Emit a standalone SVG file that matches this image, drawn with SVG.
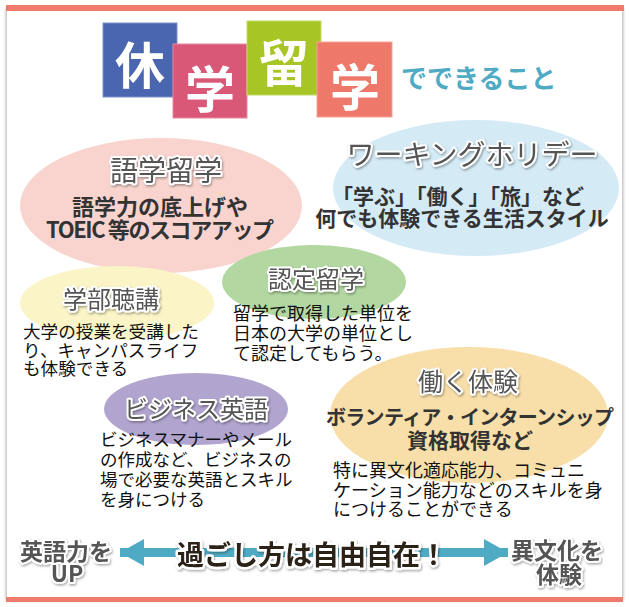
<svg xmlns="http://www.w3.org/2000/svg" width="629" height="607" viewBox="0 0 629 607">
<defs>
<filter id="cardShadow" x="-5%" y="-5%" width="110%" height="110%">
<feDropShadow dx="0" dy="0" stdDeviation="1.6" flood-color="#000" flood-opacity="0.35"/>
</filter>
<filter id="tshadow" x="-10%" y="-30%" width="120%" height="160%">
<feDropShadow dx="1" dy="1.5" stdDeviation="1" flood-color="#000" flood-opacity="0.35"/>
</filter>
<marker id="ahead" viewBox="0 0 24 27" refX="24" refY="13.5" markerWidth="24" markerHeight="27" markerUnits="userSpaceOnUse" orient="auto-start-reverse">
<path d="M0,0 L24,13.5 L0,27 Z" fill="#4fabc4"/>
</marker>
<style>
text{font-family:"Noto Sans CJK JP","Noto Sans",sans-serif;}
.big{font-size:50px;font-weight:700;fill:#fff;text-anchor:middle;}
.head{font-size:26px;font-weight:700;fill:#4fabc4;}
.ttl{fill:#555;font-weight:400;text-anchor:middle;stroke:#fff;stroke-width:4;stroke-linejoin:round;paint-order:stroke;filter:url(#tshadow);}
.bold{fill:#333;font-weight:700;text-anchor:middle;}
.body{fill:#111;font-weight:400;}
.side{fill:#555;font-weight:700;font-size:23px;text-anchor:middle;stroke:#fff;stroke-width:4;stroke-linejoin:round;paint-order:stroke;filter:url(#tshadow);}
.main{fill:#2b2119;font-weight:700;font-size:27px;stroke:#fff;stroke-width:5;stroke-linejoin:round;paint-order:stroke;filter:url(#tshadow);}
</style>
</defs>
<rect x="0" y="0" width="629" height="607" fill="#fff"/>
<g id="card">
<rect x="6.5" y="8" width="616" height="592" fill="#fff" stroke="#cfcfcf" stroke-width="1" filter="url(#cardShadow)"/>
<rect x="6" y="5" width="618" height="6" fill="#ee7b6c"/>
<rect x="6" y="597" width="617" height="5" fill="#ee7b6c"/>
</g>
<g id="title">
<rect x="103" y="23" width="74" height="74" fill="#4a66b0" stroke="#7f93c8" stroke-width="1"/>
<text class="big" x="140" y="84">休</text>
<rect x="173" y="44" width="74" height="74" fill="#d95877" stroke="#e88aa1" stroke-width="1"/>
<text class="big" x="210" y="108">学</text>
<rect x="247" y="21" width="74" height="74" fill="#a8c526" stroke="#c4da6a" stroke-width="1"/>
<text class="big" x="284" y="82">留</text>
<rect x="317" y="42" width="75" height="75" fill="#ee7869" stroke="#f5a398" stroke-width="1"/>
<text class="big" x="355" y="106">学</text>
<text class="head" x="401" y="88">でできること</text>
</g>
<g id="node-gogaku">
<ellipse cx="161" cy="205.5" rx="141" ry="67.5" fill="#f9d4cf"/>
<text class="ttl" x="166" y="181" font-size="28">語学留学</text>
<text class="bold" x="160" y="215" font-size="22">語学力の底上げや</text>
<text class="bold" x="160" y="238" font-size="22" textLength="228" lengthAdjust="spacing">TOEIC 等のスコアアップ</text>
</g>
<g id="node-working">
<ellipse cx="476" cy="188" rx="143" ry="68" fill="#d4ebf6"/>
<text class="ttl" x="472" y="165" font-size="28">ワーキングホリデー</text>
<text class="bold" x="458" y="204" font-size="21">「学ぶ」「働く」「旅」など</text>
<text class="bold" x="462" y="226" font-size="21">何でも体験できる生活スタイル</text>
</g>
<g id="node-hataraku">
<ellipse cx="469" cy="415" rx="139" ry="68" fill="#f8dfaa"/>
<text class="ttl" x="468" y="391" font-size="25">働く体験</text>
<text class="bold" x="470" y="425" font-size="20" textLength="288" lengthAdjust="spacing">ボランティア・インターンシップ</text>
<text class="bold" x="470" y="448" font-size="21">資格取得など</text>
<text class="body" font-size="18"><tspan x="333" y="477">特に異文化適応能力、コミュニ</tspan><tspan x="333" y="497">ケーション能力などのスキルを身</tspan><tspan x="333" y="516">につけることができる</tspan></text>
</g>
<g id="node-gakubu">
<ellipse cx="117" cy="303" rx="97" ry="37" fill="#faf4c6"/>
<text class="ttl" x="111" y="308" font-size="24">学部聴講</text>
<text class="body" font-size="17.6"><tspan x="23" y="338">大学の授業を受講した</tspan><tspan x="23" y="356.5">り、キャンパスライフ</tspan><tspan x="23" y="375">も体験できる</tspan></text>
</g>
<g id="node-nintei">
<ellipse cx="314" cy="282" rx="92" ry="37" fill="#b3d7a1"/>
<text class="ttl" x="316" y="288" font-size="24">認定留学</text>
<text class="body" font-size="18"><tspan x="233" y="320">留学で取得した単位を</tspan><tspan x="233" y="340">日本の大学の単位とし</tspan><tspan x="233" y="360">て認定してもらう。</tspan></text>
</g>
<g id="node-business">
<ellipse cx="196" cy="409" rx="92" ry="36" fill="#b1a5cf"/>
<text class="ttl" x="196" y="418" font-size="24">ビジネス英語</text>
<text class="body" font-size="17.5"><tspan x="100" y="446">ビジネスマナーやメール</tspan><tspan x="100" y="466">の作成など、ビジネスの</tspan><tspan x="100" y="486">場で必要な英語とスキル</tspan><tspan x="100" y="506">を身につける</tspan></text>
</g>
<g id="connectors">
<line x1="120" y1="552.5" x2="508" y2="552.5" stroke="#4fabc4" stroke-width="9" marker-start="url(#ahead)" marker-end="url(#ahead)"/>
</g>
<g id="node-eigo">
<text class="side"><tspan x="66" y="560">英語力を</tspan><tspan x="67" y="582">UP</tspan></text>
</g>
<g id="node-main">
<text class="main" x="177" y="565">過ごし方は自由自在！</text>
</g>
<g id="node-ibunka">
<text class="side"><tspan x="557" y="559">異文化を</tspan><tspan x="559" y="583">体験</tspan></text>
</g>
</svg>
